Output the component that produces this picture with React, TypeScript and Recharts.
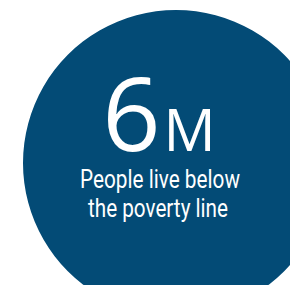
import { PieChart, Pie, Cell, Label } from "recharts";

// headline figure and caption
const figure = ["6", "M"];
const captionLines = ["People live below", "the poverty line"];
const slices = [{ name: "poverty", value: 1 }];

const BLUE = "#034b76";

function Badge(_props: any) {
  return (
    <g>
      <text
        x={159}
        y={151}
        textAnchor="middle"
        fill="#fff"
        fontFamily="'Open Sans', sans-serif"
        fontWeight={400}
      >
        <tspan fontSize={102}>{figure[0]}</tspan>
        <tspan fontSize={58} dx={3}>
          {figure[1]}
        </tspan>
      </text>
      <text
        x={160}
        y={188}
        textAnchor="middle"
        fill="#fff"
        fontSize={25}
        fontFamily="Roboto, sans-serif"
        textLength={160}
        lengthAdjust="spacingAndGlyphs"
      >
        {captionLines[0]}
      </text>
      <text
        x={158}
        y={217}
        textAnchor="middle"
        fill="#fff"
        fontSize={25}
        fontFamily="Roboto, sans-serif"
        textLength={140}
        lengthAdjust="spacingAndGlyphs"
      >
        {captionLines[1]}
      </text>
    </g>
  );
}

export default function App() {
  return (
    <div style={{ position: "absolute", left: 0, top: 0, width: 290, height: 285, background: "#fff" }}>
      <PieChart width={290} height={285} margin={{ top: 0, right: 0, bottom: 0, left: 0 }}>
        <Pie
          data={slices}
          dataKey="value"
          cx={176}
          cy={163}
          innerRadius={0}
          outerRadius={153}
          startAngle={90}
          endAngle={-270}
          stroke="none"
          isAnimationActive={false}
        >
          {slices.map((s) => (
            <Cell key={s.name} fill={BLUE} />
          ))}
          <Label position="center" content={(props: any) => <Badge {...props} />} />
        </Pie>
      </PieChart>
    </div>
  );
}
